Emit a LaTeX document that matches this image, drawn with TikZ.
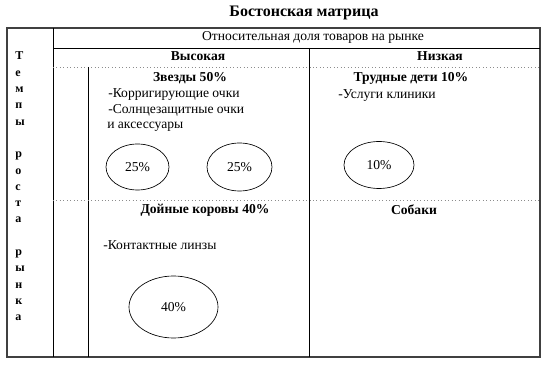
\documentclass[tikz,border=0pt]{standalone}
\usepackage{fontspec}
\setmainfont{Liberation Serif}
\usetikzlibrary{shapes.geometric}
\begin{document}
\begin{tikzpicture}[x=0.75pt,y=-0.75pt,
  font=\fontsize{10.2}{12}\selectfont,
  frame/.style={draw=black!75,line width=1.2pt},
  rule/.style={draw=black,line width=0.7pt},
  dotrule/.style={draw=black!45,dotted,line width=0.6pt},
  head/.style={anchor=base,inner sep=0pt,font=\fontsize{10.2}{12}\selectfont\bfseries},
  item/.style={anchor=base west,inner sep=0pt},
  vletter/.style={anchor=base west,inner sep=0pt,font=\fontsize{9}{10}\selectfont\bfseries},
  share/.style={ellipse,draw,line width=0.5pt,inner sep=0pt}]
\useasboundingbox (0,0) rectangle (549,366);

% title
\node[anchor=base,inner sep=0pt,font=\fontsize{12}{14}\selectfont\bfseries] (title) at (304,17) {Бостонская матрица};

% grid
\draw[frame] (7,28) rectangle (540,357);
\draw[rule] (53,28) -- (53,357);
\draw[rule] (53,48) -- (540,48);
\draw[rule] (309,48) -- (309,357);
\draw[dotrule] (53,67) -- (540,67);
\draw[rule] (88,67) -- (88,357);
\draw[dotrule] (53,200) -- (540,200);

% row label
\foreach \ch/\k in {Т/0,е/1,м/2,п/3,ы/4,р/6,о/7,с/8,т/9,а/10,р/12,ы/13,н/14,к/15,а/16}
  \node[vletter] (letter\k) at (15,{60+16.3*\k}) {\ch};

% column heads
\node[anchor=base,inner sep=0pt] (share) at (313,41) {Относительная доля товаров на рынке};
\node[head] (high) at (198,61) {Высокая};
\node[head] (low) at (440,61) {Низкая};

% stars
\node[head] (stars) at (190,82) {Звезды 50\%};
\node[item] (stars1) at (108,98) {-Корригирующие очки};
\node[item] (stars2) at (108,114) {-Солнцезащитные очки};
\node[item] (stars3) at (107,129) {и аксессуары};
\node[share,minimum width=63*0.75pt,minimum height=46*0.75pt] (starsA) at (137.5,167) {25\%};
\node[share,minimum width=65*0.75pt,minimum height=48*0.75pt] (starsB) at (239.5,167) {25\%};

% question marks
\node[head] (kids) at (411,82) {Трудные дети 10\%};
\node[item] (kids1) at (338,99) {-Услуги клиники};
\node[share,minimum width=70*0.75pt,minimum height=47*0.75pt] (kidsA) at (379,165) {10\%};

% cash cows
\node[head] (cows) at (205,214) {Дойные коровы 40\%};
\node[item] (cows1) at (103,250) {-Контактные линзы};
\node[share,minimum width=89*0.75pt,minimum height=62*0.75pt] (cowsA) at (173.5,307) {40\%};

% dogs
\node[head] (dogs) at (414,215) {Собаки};
\end{tikzpicture}
\end{document}
